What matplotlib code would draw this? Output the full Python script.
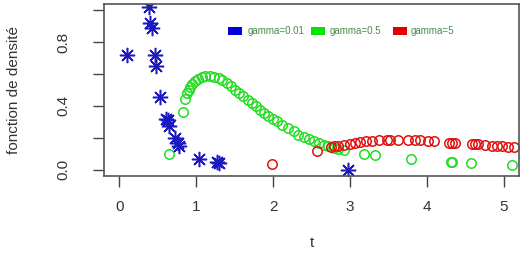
import matplotlib
matplotlib.use("Agg")
import matplotlib.pyplot as plt
from matplotlib.patches import Rectangle

plt.rcParams['font.family'] = ['Liberation Sans', 'DejaVu Sans']

# gamma = 0.01 (blue asterisks)
t_blue = [0.10, 0.39, 0.40, 0.42, 0.46, 0.48, 0.53, 0.61, 0.63, 0.64, 0.72, 0.76, 0.78, 1.04, 1.27, 1.30, 2.97]
y_blue = [0.72, 1.02, 0.92, 0.89, 0.72, 0.65, 0.456, 0.32, 0.31, 0.276, 0.199, 0.17, 0.150, 0.067, 0.045, 0.040, 0.0]

# gamma = 0.5 (green circles)
t_green = [0.64, 0.825,
           0.855, 0.88, 0.90, 0.92, 0.95, 0.985, 1.02, 1.07, 1.12, 1.18, 1.23, 1.29, 1.34, 1.40,
           1.45, 1.51, 1.56, 1.61, 1.67, 1.72, 1.78, 1.83, 1.88, 1.94, 2.0, 2.05, 2.12, 2.2,
           2.27, 2.33, 2.40, 2.47, 2.53, 2.60, 2.66, 2.72, 2.79, 2.85, 2.92,
           3.18, 3.33, 3.79, 4.31, 4.33, 4.57, 5.11]
y_green = [0.10, 0.364,
           0.443, 0.48, 0.50, 0.52, 0.54, 0.554, 0.57, 0.582, 0.588, 0.588, 0.583, 0.575, 0.56, 0.544,
           0.522, 0.50, 0.48, 0.46, 0.44, 0.418, 0.397, 0.376, 0.355, 0.334, 0.318, 0.303, 0.28, 0.26,
           0.24, 0.22, 0.205, 0.19, 0.178, 0.167, 0.157, 0.147, 0.138, 0.13, 0.121,
           0.098, 0.09, 0.067, 0.048, 0.046, 0.042, 0.031]

# gamma = 5 (red circles)
t_red = [1.98, 2.57, 2.76, 2.79, 2.85, 2.92, 3.0, 3.06, 3.13, 3.21, 3.29, 3.38, 3.48, 3.52, 3.63,
         3.75, 3.85, 3.91, 4.02, 4.10, 4.29, 4.33, 4.37, 4.59, 4.63, 4.66, 4.76, 4.85, 4.91, 4.98,
         5.06, 5.13]
y_red = [0.036, 0.115, 0.14, 0.146, 0.15, 0.155, 0.163, 0.167, 0.173, 0.177, 0.182, 0.184, 0.188,
         0.187, 0.188, 0.187, 0.188, 0.186, 0.178, 0.178, 0.17, 0.167, 0.168, 0.161, 0.162, 0.16,
         0.155, 0.151, 0.15, 0.146, 0.145, 0.14]

legend_labels = ["gamma=0.01", "gamma=0.5", "gamma=5"]
legend_colors = ["#0000dd", "#00e600", "#e60000"]

x_ticks = [0, 1, 2, 3, 4, 5]
y_ticks = [0.0, 0.2, 0.4, 0.6, 0.8, 1.0]
y_ticklabels = ["0.0", "", "0.4", "", "0.8", ""]

W, H = 529, 257
fig = plt.figure(figsize=(W / 100, H / 100), dpi=100)
ax = fig.add_axes([104 / W, 1 - 176 / H, (519 - 104) / W, (176 - 4) / H])

ax.plot(t_green, y_green, linestyle='none', marker='o', markersize=6.8, markerfacecolor='none',
        markeredgecolor='#22dd22', markeredgewidth=1.1)
ax.plot(t_red, y_red, linestyle='none', marker='o', markersize=6.8, markerfacecolor='none',
        markeredgecolor='#e01010', markeredgewidth=1.1)
ax.plot(t_blue, y_blue, linestyle='none', marker=(8, 2, 0), markersize=11,
        markeredgecolor='#1a1ac0', markeredgewidth=1.1)

ax.set_xlim(-0.2, 5.2)
ax.set_ylim(-0.04, 1.04)
ax.set_xticks(x_ticks)
ax.set_xticklabels([str(v) for v in x_ticks])
ax.set_yticks(y_ticks)
ax.set_yticklabels(y_ticklabels, rotation=90, va='center')

for s in ax.spines.values():
    s.set_color('#555555')
    s.set_linewidth(1.2)
ax.tick_params(axis='both', direction='out', length=8, width=1.0, color='#444444',
               labelsize=11, labelcolor='#333333')
ax.tick_params(axis='y', pad=16)
ax.tick_params(axis='x', pad=9)

ax.set_xlabel("t", fontsize=11, color='#333333', labelpad=16)
ax.set_ylabel("fonction de densité", fontsize=11, color='#333333', labelpad=26)

# legend (manual, in pixel coordinates)
sq_x = [228, 311, 393]
tx_x = [248, 330, 411]
for lab, col, sx, tx in zip(legend_labels, legend_colors, sq_x, tx_x):
    fig.patches.append(Rectangle((sx / W, 1 - 35 / H), 14 / W, 8 / H, transform=fig.transFigure,
                                 facecolor=col, edgecolor='none'))
    fig.text(tx / W, 1 - 31 / H, lab, fontsize=7, color='#4a8a4a', va='center', ha='left')

fig.savefig("out.png", dpi=100)
